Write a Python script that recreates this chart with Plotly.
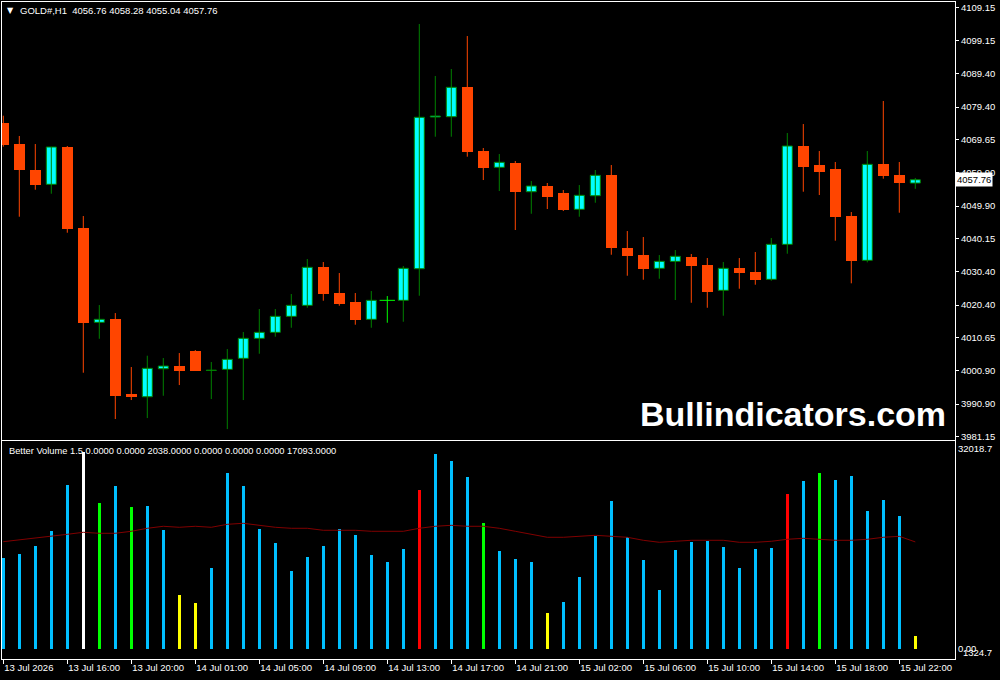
import plotly.graph_objects as go

# GOLD#, H1 bars, left to right (index 0 = 13 Jul 2026 12:00)
opens = [4074.75, 4068.40, 4060.65, 4056.39, 4067.51, 4043.36, 4015.25, 4016.24, 3993.97, 3993.07,
         4001.42, 4002.23, 4006.70, 4000.90, 4001.24, 4004.52, 4010.48, 4012.27, 4017.04, 4020.32,
         4031.74, 4023.99, 4021.30, 4016.15, 4021.81, 4021.81, 4031.23, 4076.45, 4076.54, 4085.39,
         4066.31, 4061.46, 4062.74, 4054.18, 4055.88, 4053.80, 4048.94, 4052.99, 4059.16, 4037.40,
         4035.31, 4031.35, 4033.43, 4034.72, 4032.33, 4024.79, 4031.44, 4030.25, 4028.07, 4038.50,
         4067.81, 4062.14, 4060.95, 4046.94, 4033.73, 4062.44, 4059.16, 4056.76]
highs = [4076.84, 4070.79, 4068.40, 4067.51, 4067.81, 4046.94, 4020.41, 4018.02, 4001.93, 4005.30,
         4004.61, 4006.10, 4006.99, 4003.42, 4007.29, 4012.36, 4019.22, 4019.22, 4023.69, 4034.12,
         4033.23, 4029.95, 4023.99, 4024.58, 4023.09, 4032.03, 4104.17, 4088.67, 4090.76, 4100.59,
         4067.21, 4065.42, 4063.33, 4057.37, 4056.78, 4054.69, 4056.18, 4060.65, 4062.14, 4042.47,
         4040.68, 4035.31, 4036.80, 4035.61, 4034.42, 4033.23, 4034.42, 4036.21, 4040.38, 4071.68,
         4074.36, 4066.31, 4063.04, 4048.13, 4066.31, 4081.22, 4063.04, 4058.28]
lows = [4067.60, 4046.73, 4054.78, 4053.59, 4041.96, 4000.23, 4010.36, 3986.43, 3992.09, 3986.72,
        3993.37, 3996.56, 4000.82, 3992.39, 3983.44, 3992.09, 4005.89, 4010.96, 4013.64, 4019.60,
        4021.69, 4020.20, 4014.54, 4013.64, 4015.13, 4015.43, 4023.18, 4070.58, 4070.58, 4064.62,
        4057.67, 4054.39, 4042.77, 4047.62, 4049.03, 4048.43, 4046.73, 4050.90, 4035.40, 4029.14,
        4027.95, 4028.25, 4021.90, 4021.09, 4019.60, 4017.22, 4025.27, 4026.46, 4027.65, 4035.70,
        4054.18, 4053.20, 4039.58, 4026.88, 4033.14, 4058.06, 4047.92, 4055.04]
closes = [4068.10, 4060.74, 4056.27, 4067.51, 4043.15, 4015.13, 4016.15, 3993.37, 3993.07, 4001.54,
          4002.23, 4000.82, 4000.82, 4001.00, 4004.22, 4010.48, 4012.27, 4017.04, 4020.32, 4031.65,
          4023.78, 4020.80, 4016.03, 4021.81, 4021.81, 4031.35, 4076.36, 4076.75, 4085.30, 4066.11,
          4061.34, 4062.95, 4054.18, 4055.88, 4052.69, 4048.73, 4053.11, 4059.07, 4037.49, 4035.10,
          4031.23, 4033.43, 4034.93, 4032.12, 4024.37, 4031.35, 4030.04, 4027.95, 4038.50, 4067.81,
          4061.63, 4060.14, 4046.73, 4033.61, 4062.35, 4058.95, 4056.87, 4057.76]

# Better Volume 1.5 histogram + its average line
volumes = [14521, 15161, 16442, 18844, 26208, 31492, 23327, 26048, 22686, 22846,
           19004, 8597, 7317, 12920, 28130, 26048, 19164, 16923, 12440, 14681,
           16442, 19164, 18203, 15001, 13881, 15962, 25408, 31171, 30050, 27489,
           20125, 15642, 14361, 13881, 5716, 7477, 11479, 18043, 23647, 17883,
           14201, 9398, 15802, 17083, 17243, 16282, 12920, 15962, 16122, 24767,
           26849, 28130, 27009, 27649, 22046, 23807, 21245, 2038]
vol_type = ["normal"] * 58
for i in (5,):
    vol_type[i] = "climax_low"
for i in (6, 8, 30, 51):
    vol_type[i] = "churn"
for i in (26, 49):
    vol_type[i] = "climax_high"
for i in (11, 12, 34, 57):
    vol_type[i] = "low"
vol_ma = [17131, 17403, 17723, 17995, 18315, 18636, 18476, 18476, 18796, 19276,
          19596, 19436, 19596, 19436, 19916, 20077, 19756, 19436, 19276, 19276,
          18956, 18956, 18956, 18796, 18796, 18796, 19276, 19596, 19756, 19596,
          19596, 19276, 18796, 18315, 17835, 17835, 17995, 18155, 17995, 17835,
          17355, 17035, 17195, 17355, 17355, 17355, 17035, 17035, 17195, 17515,
          17675, 17515, 17355, 17355, 17515, 17835, 17995, 17093]

time_ticks = list(range(0, 58, 4))
time_labels = ["13 Jul 2026", "13 Jul 16:00", "13 Jul 20:00", "14 Jul 01:00", "14 Jul 05:00",
               "14 Jul 09:00", "14 Jul 13:00", "14 Jul 17:00", "14 Jul 21:00", "15 Jul 02:00",
               "15 Jul 06:00", "15 Jul 10:00", "15 Jul 14:00", "15 Jul 18:00", "15 Jul 22:00"]
price_ticks = [4109.15, 4099.15, 4089.40, 4079.40, 4069.65, 4059.90, 4049.90, 4040.15,
               4030.40, 4020.40, 4010.65, 4000.90, 3990.90, 3981.15]
vol_max_label = 32018.7
vol_min_label = "1324.7"

VOL_COLORS = {"normal": "#00BFFF", "climax_low": "#FFFFFF", "churn": "#00FF00",
              "climax_high": "#FF0000", "low": "#FFFF00"}
BULL_FILL, BULL_LINE, BEAR = "#00FFFF", "#008000", "#FF4500"
DOJI = "#00FF00"
FONT = "Liberation Sans"

W, H = 1000, 680
ML, MR, MT, MB = 2, 45, 2, 21


def fx(px):
    return (px - ML) / (W - ML - MR)


def fy(py):
    return (H - MB - py) / (H - MT - MB)


n = len(opens)
bull = [i for i in range(n) if closes[i] > opens[i]]
bear = [i for i in range(n) if closes[i] < opens[i]]
doji = [i for i in range(n) if closes[i] == opens[i]]

fig = go.Figure()

# wicks
for idx, col in ((bull, BULL_LINE), (bear, BEAR), (doji, DOJI)):
    wx, wy = [], []
    for i in idx:
        wx += [i, i, None]
        wy += [lows[i], highs[i], None]
    fig.add_trace(go.Scatter(x=wx, y=wy, mode="lines", line=dict(color=col, width=1),
                             hoverinfo="skip", showlegend=False))

# bodies
fig.add_trace(go.Bar(x=bull, base=[opens[i] for i in bull],
                     y=[closes[i] - opens[i] for i in bull], width=0.625,
                     marker=dict(color=BULL_FILL, line=dict(color=BULL_LINE, width=1)),
                     hoverinfo="skip", showlegend=False))
fig.add_trace(go.Bar(x=bear, base=[closes[i] for i in bear],
                     y=[opens[i] - closes[i] for i in bear], width=0.6875,
                     marker=dict(color=BEAR, line=dict(width=0)),
                     hoverinfo="skip", showlegend=False))
fig.add_trace(go.Scatter(x=doji, y=[opens[i] for i in doji], mode="markers",
                         marker=dict(symbol="line-ew", size=11, line=dict(color=DOJI, width=1)),
                         hoverinfo="skip", showlegend=False))

# volume panel
fig.add_trace(go.Bar(x=list(range(n)), y=volumes, width=0.1875, xaxis="x2", yaxis="y2",
                     marker=dict(color=[VOL_COLORS[t] for t in vol_type], line=dict(width=0)),
                     hoverinfo="skip", showlegend=False))
fig.add_trace(go.Scatter(x=list(range(n)), y=vol_ma, mode="lines", xaxis="x2", yaxis="y2",
                         line=dict(color="#800000", width=1), hoverinfo="skip", showlegend=False))

xr = [-1.3 / 16, -1.3 / 16 + (W - ML - MR) / 16]
frame = dict(showline=True, mirror=True, linecolor="white", linewidth=1,
             showgrid=False, zeroline=False, fixedrange=True)
tickfont = dict(family=FONT, size=9.5, color="white")

fig.update_layout(
    width=W, height=H,
    margin=dict(l=ML, r=MR, t=MT, b=MB, pad=0),
    paper_bgcolor="black", plot_bgcolor="black",
    barmode="overlay", bargap=0,
    showlegend=False,
    xaxis=dict(domain=[0, 1], range=xr, anchor="y", showticklabels=False, ticks="", **frame),
    yaxis=dict(domain=[fy(439.5), 1], range=[3980.33, 4110.73], anchor="x", side="right",
               tickvals=price_ticks, tickformat=".2f", ticks="outside", ticklen=3,
               tickcolor="white", tickfont=tickfont, automargin=False, **frame),
    xaxis2=dict(domain=[0, 1], range=xr, anchor="y2", tickvals=time_ticks, ticktext=time_labels,
                ticks="outside", ticklen=4, tickcolor="white", tickfont=tickfont,
                ticklabelposition="outside right", automargin=False, **frame),
    yaxis2=dict(domain=[0, fy(441.3)], range=[-1649, 33203], anchor="x2", side="right",
                tickvals=[vol_max_label, 0], ticktext=[f"{vol_max_label:.1f}", "0.00"],
                ticks="", tickfont=tickfont, automargin=False, **frame),
)

ann = []
ann.append(dict(x=fx(10), y=fy(10.5), text="▼", font=dict(family="DejaVu Sans", size=8, color="white")))
ann.append(dict(x=fx(18), y=fy(10.7), xanchor="left",
                text=f"GOLD#,H1\u00a0\u00a0{opens[-1]:.2f} {highs[-1]:.2f} {lows[-1]:.2f} {closes[-1]:.2f}",
                font=dict(family=FONT, size=9.5, color="white")))
ann.append(dict(x=fx(7), y=fy(450.7), xanchor="left",
                text=f"Better Volume 1.5 0.0000 0.0000 {volumes[-1]:.4f} 0.0000 0.0000 0.0000 {vol_ma[-1]:.4f}",
                font=dict(family=FONT, size=9.3, color="white")))
ann.append(dict(x=fx(961), y=fy(652), xanchor="left", text=vol_min_label,
                font=dict(family=FONT, size=9.5, color="white")))
ann.append(dict(x=fx(948), y=fy(414), xanchor="right", text="<b>Bullindicators.com</b>",
                font=dict(family=FONT, size=34, color="white")))
for a in ann:
    a.setdefault("xanchor", "center")
    a.update(xref="paper", yref="paper", yanchor="middle", showarrow=False)
fig.update_layout(annotations=ann)
fig.add_annotation(x=1, xref="paper", y=closes[-1], yref="y", xanchor="left", yanchor="middle",
                   text=f"{closes[-1]:.2f}", showarrow=False, bgcolor="white", borderpad=1,
                   font=dict(family=FONT, size=9.5, color="black"))

# the page body has a default 8px margin; drop it so the chart fills the window
fig.write_html("out.html", config={"displayModeBar": False, "staticPlot": True},
               post_script="document.body.style.margin='0';")
